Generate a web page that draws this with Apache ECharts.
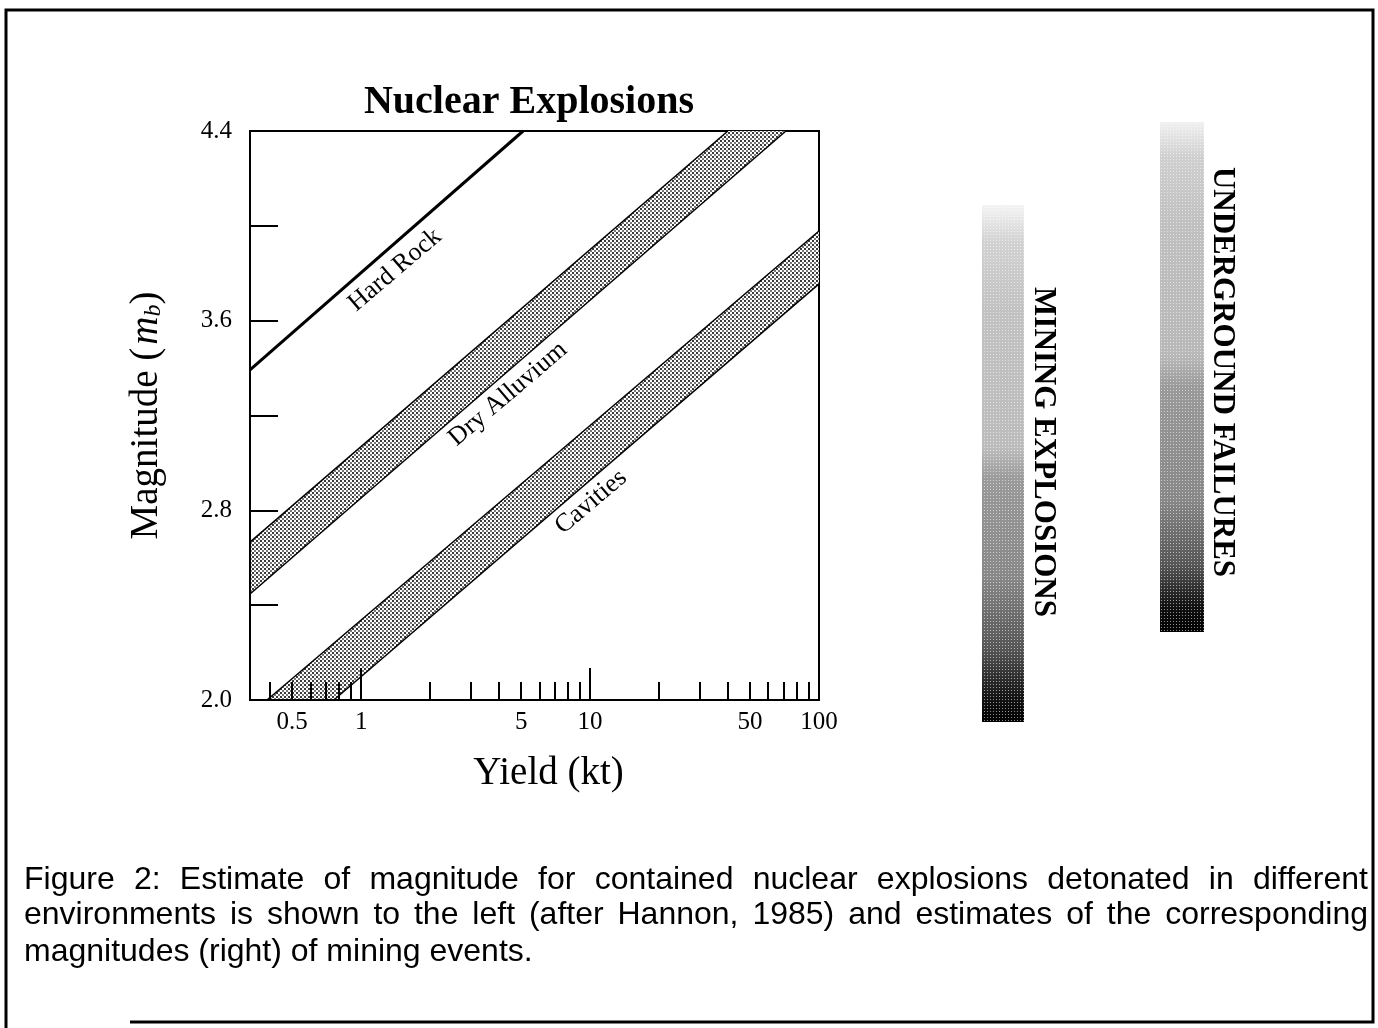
<!DOCTYPE html>
<html>
<head>
<meta charset="utf-8">
<script src="https://cdn.jsdelivr.net/npm/echarts@6/dist/echarts.min.js"></script>
<style>
html,body{margin:0;padding:0;background:#fff;}
#c{width:1378px;height:1028px;}
</style>
</head>
<body>
<div id="c"></div>
<script>
// ---- data ----
const yieldTickLabels = [0.5, 1, 5, 10, 50, 100];
const yieldMinorTicks = [0.4, 0.5, 0.6, 0.7, 0.8, 0.9, 2, 3, 4, 5, 6, 7, 8, 9, 20, 30, 40, 50, 60, 70, 80, 90];
const yieldMajorTicks = [1, 10];
const magTicks = [2.4, 2.8, 3.2, 3.6, 4.0];
const magLabels = [2.0, 2.8, 3.6, 4.4];
const yieldMin = 0.327, yieldMax = 100;
const magMin = 2.0, magMax = 4.4, magStep = 0.4;

// [yield kt, magnitude mb]
const hardRock = [[0.327, 3.392], [5.1, 4.4]];
const dryAlluviumUpper = [[0.327, 2.666], [40, 4.4]];
const dryAlluviumLower = [[0.327, 2.447], [71.7, 4.4]];
const cavitiesUpper = [[0.388, 2.0], [100, 3.978]];
const cavitiesLower = [[0.76, 2.0], [100, 3.755]];

const bandNames = ['Hard Rock', 'Dry Alluvium', 'Cavities'];
const barNames = ['MINING EXPLOSIONS', 'UNDERGROUND FAILURES'];
const captionLines = [
  'Figure 2:  Estimate of magnitude for contained nuclear explosions detonated in different',
  'environments is shown to the left (after Hannon, 1985) and estimates of the corresponding',
  'magnitudes (right) of mining events.'
];

// ---- styles ----
const SERIF = '"Liberation Serif", "Times New Roman", serif';
const SANS = '"Liberation Sans", Arial, sans-serif';

function makeDots(size, dots, bg) {
  const cv = document.createElement('canvas');
  cv.width = size; cv.height = size;
  const g = cv.getContext('2d');
  if (bg) { g.fillStyle = bg; g.fillRect(0, 0, size, size); }
  dots.forEach(d => { g.fillStyle = d[3]; g.fillRect(d[0], d[1], d[2], d[2]); });
  return cv;
}
const bandPattern = { image: makeDots(4, [[0, 0, 2, '#3a3a3a'], [2, 2, 2, '#777']], '#fff'), repeat: 'repeat' };
const barDots = { image: makeDots(3, [[0, 0, 1, 'rgba(255,255,255,0.55)']], null), repeat: 'repeat' };

function bandSeries(name, upper, lower) {
  const poly = upper.concat(lower.slice().reverse());
  return {
    name: name, type: 'custom', xAxisIndex: 0, yAxisIndex: 0, z: 2, clip: true,
    data: poly,
    renderItem: function (params, api) {
      if (params.dataIndex !== 0) return null;
      return {
        type: 'polygon',
        shape: { points: poly.map(p => api.coord(p)) },
        style: { fill: bandPattern, stroke: null }
      };
    }
  };
}
function edgeSeries(name, data, width) {
  return {
    name: name, type: 'line', xAxisIndex: 0, yAxisIndex: 0, z: 3, data: data,
    showSymbol: false, symbol: 'none', clip: true, silent: true,
    lineStyle: { color: '#000', width: width }
  };
}

// ---- caption (justified, word by word) ----
const measureCtx = document.createElement('canvas').getContext('2d');
const capFont = '32px ' + SANS;
measureCtx.font = capFont;
function captionElements() {
  const L = 24, R = 1368, ys = [880, 915, 952];
  const els = [];
  captionLines.forEach((line, i) => {
    const words = line.split(/\s+/);
    const ws = words.map(w => measureCtx.measureText(w).width);
    const total = ws.reduce((a, b) => a + b, 0);
    const justify = i < captionLines.length - 1;
    const gap = justify ? (R - L - total) / (words.length - 1) : measureCtx.measureText(' ').width;
    let x = L;
    words.forEach((w, k) => {
      els.push({
        type: 'text', x: x, y: ys[i], silent: true,
        style: { text: w, font: capFont, fill: '#000', align: 'left', verticalAlign: 'middle', textAlign: 'left', textVerticalAlign: 'middle' }
      });
      x += ws[k] + gap;
    });
  });
  return els;
}

function vtext(text, x, y, size, bold) {
  return {
    type: 'text', x: x, y: y, rotation: -Math.PI / 2, silent: true,
    style: { text: text, font: (bold ? 'bold ' : '') + size + 'px ' + SERIF, fill: '#000',
      align: 'center', verticalAlign: 'middle', textAlign: 'center', textVerticalAlign: 'middle' }
  };
}
function slantText(text, x, y, size, angle) {
  return {
    type: 'text', x: x, y: y, rotation: angle, silent: true,
    style: { text: text, font: size + 'px ' + SERIF, fill: '#000',
      align: 'center', verticalAlign: 'middle', textAlign: 'center', textVerticalAlign: 'middle' }
  };
}
function gradBar(x, y, w, h, stops) {
  return [
    { type: 'rect', shape: { x: x, y: y, width: w, height: h }, silent: true,
      style: { fill: new echarts.graphic.LinearGradient(0, 0, 0, 1, stops), stroke: null } },
    { type: 'rect', shape: { x: x, y: y, width: w, height: h }, silent: true,
      style: { fill: barDots, stroke: null } }
  ];
}

const slope = Math.atan(0.85);

const chart = echarts.init(document.getElementById('c'), null, { renderer: 'canvas', width: 1378, height: 1028 });
const axisText = { fontFamily: SERIF, fontSize: 25, color: '#000' };
const option = {
  backgroundColor: '#fff',
  animation: false,
  title: {
    text: 'Nuclear Explosions', left: 524, top: 78, textAlign: 'center',
    textStyle: { fontFamily: SERIF, fontSize: 40, fontWeight: 'bold', color: '#000' }
  },
  grid: { left: 250, top: 131, width: 569, height: 569, show: true, borderColor: '#000', borderWidth: 2, backgroundColor: 'transparent' },
  xAxis: [
    {
      type: 'log', logBase: 10, min: yieldMin, max: yieldMax, position: 'bottom', z: 5,
      axisLine: { show: true, lineStyle: { color: '#000', width: 2 } },
      axisTick: { show: true, inside: true, length: 18, customValues: yieldMinorTicks, lineStyle: { color: '#000', width: 2 } },
      axisLabel: Object.assign({ customValues: yieldTickLabels, formatter: v => String(v), margin: 10 }, axisText),
      splitLine: { show: false }, minorTick: { show: false },
      name: 'Yield (kt)', nameLocation: 'middle', nameGap: 54,
      nameTextStyle: { fontFamily: SERIF, fontSize: 39, color: '#000', padding: [0, 0, 0, 28] }
    },
    {
      type: 'log', logBase: 10, min: yieldMin, max: yieldMax, position: 'bottom', z: 5,
      axisLine: { show: false },
      axisTick: { show: true, inside: true, length: 32, customValues: yieldMajorTicks, lineStyle: { color: '#000', width: 2 } },
      axisLabel: { show: false }, splitLine: { show: false }
    }
  ],
  yAxis: {
    type: 'value', min: magMin, max: magMax, interval: magStep, z: 5,
    axisLine: { show: true, lineStyle: { color: '#000', width: 2 } },
    axisTick: { show: true, inside: true, length: 28, customValues: magTicks, lineStyle: { color: '#000', width: 2 } },
    axisLabel: Object.assign({ customValues: magLabels, formatter: v => Number(v).toFixed(1), margin: 18 }, axisText),
    splitLine: { show: false },
    name: '{n|Magnitude (}{i|m}{s|b}{n|)}', nameLocation: 'middle', nameGap: 84, nameRotate: 90,
    nameTextStyle: {
      fontFamily: SERIF, fontSize: 39, color: '#000',
      rich: {
        n: { fontFamily: SERIF, fontSize: 39, color: '#000', lineHeight: 46, verticalAlign: 'bottom' },
        i: { fontFamily: SERIF, fontSize: 39, fontStyle: 'italic', color: '#000', lineHeight: 46, verticalAlign: 'bottom', padding: [0, 0, 0, 3] },
        s: { fontFamily: SERIF, fontSize: 24, fontStyle: 'italic', color: '#000', lineHeight: 46, verticalAlign: 'bottom' }
      }
    }
  },
  series: [
    bandSeries('Dry Alluvium', dryAlluviumUpper, dryAlluviumLower),
    bandSeries('Cavities', cavitiesUpper, cavitiesLower),
    edgeSeries('Hard Rock', hardRock, 3),
    edgeSeries('Dry Alluvium upper', dryAlluviumUpper, 1.5),
    edgeSeries('Dry Alluvium lower', dryAlluviumLower, 1.5),
    edgeSeries('Cavities upper', cavitiesUpper, 1.5),
    edgeSeries('Cavities lower', cavitiesLower, 1.5)
  ],
  graphic: {
    elements: [
      // frame
      { type: 'polyline', silent: true, shape: { points: [[6, 1028], [6, 10], [1373, 10], [1373, 1022], [130, 1022]] },
        style: { stroke: '#000', lineWidth: 3, fill: null } },
      // band labels
      slantText(bandNames[0], 395, 270, 26, slope),
      slantText(bandNames[1], 508, 394, 26, slope),
      slantText(bandNames[2], 591, 502, 26, slope),
      // gradient bars
      ...gradBar(982, 205, 42, 517, [
        { offset: 0, color: '#f4f4f4' }, { offset: 0.07, color: '#d2d2d2' }, { offset: 0.2, color: '#c2c2c2' },
        { offset: 0.47, color: '#bcbcbc' }, { offset: 0.53, color: '#9a9a9a' }, { offset: 0.72, color: '#888' },
        { offset: 0.86, color: '#555' }, { offset: 0.95, color: '#151515' }, { offset: 1, color: '#000' }
      ]),
      ...gradBar(1160, 122, 44, 510, [
        { offset: 0, color: '#f0f0f0' }, { offset: 0.07, color: '#cfcfcf' }, { offset: 0.2, color: '#c0c0c0' },
        { offset: 0.46, color: '#b8b8b8' }, { offset: 0.52, color: '#9a9a9a' }, { offset: 0.74, color: '#888' },
        { offset: 0.87, color: '#555' }, { offset: 0.95, color: '#111' }, { offset: 1, color: '#000' }
      ]),
      vtext(barNames[0], 1043, 452, 31, true),
      vtext(barNames[1], 1222, 372, 31, true),
      ...captionElements()
    ]
  }
};
chart.setOption(option);
</script>
</body>
</html>
